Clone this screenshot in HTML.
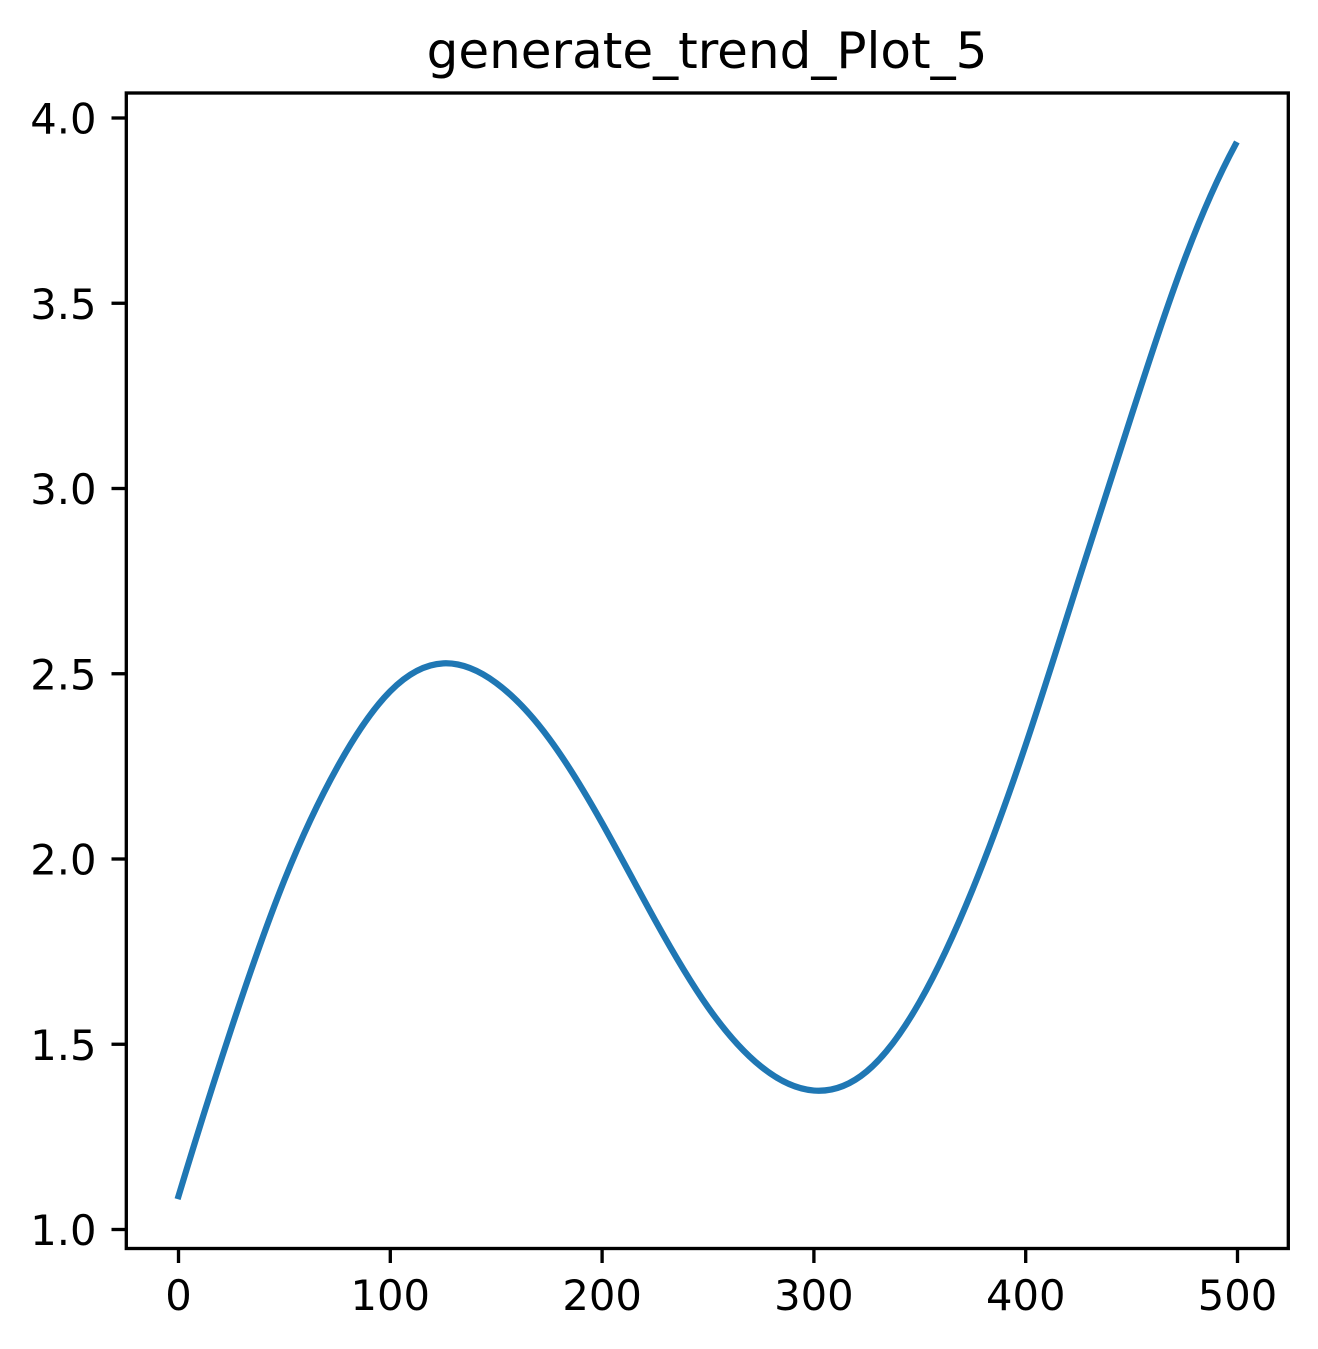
<!DOCTYPE html>
<html lang="en">
<head>
<meta charset="utf-8">
<title>generate_trend_Plot_5</title>
<style>
html,body{margin:0;padding:0;background:#fff;}
body{width:1318px;height:1349px;overflow:hidden;}
svg{display:block;}
text{font-family:"DejaVu Sans","Liberation Sans",sans-serif;fill:#000;}
</style>
</head>
<body>
<svg id="chart" xmlns="http://www.w3.org/2000/svg" width="1318" height="1349" viewBox="0 0 1318 1349">
  <rect x="0" y="0" width="1318" height="1349" fill="#ffffff"/>
  <text x="707" y="68" text-anchor="middle" style="font-size:50px">generate_trend_Plot_5</text>
  <g id="ticks"></g>
  <path id="line" fill="none" stroke="#1f77b4" stroke-width="6.25" stroke-linecap="square" stroke-linejoin="round"/>
  <rect x="126.3" y="93" width="1162" height="1155.5" fill="none" stroke="#000" stroke-width="3.33"/>
</svg>
<script>
const xValues = [0,25,50,75,100,125,150,175,200,225,250,275,300,325,350,375,400,425,450,475,499];
const yValues = [1.09,1.543,1.943,2.248,2.453,2.528,2.475,2.325,2.097,1.835,1.60,1.44,1.375,1.427,1.615,1.919,2.308,2.753,3.198,3.618,3.928];
const xTicks = [0,100,200,300,400,500];
const yTicks = [1.0,1.5,2.0,2.5,3.0,3.5,4.0];
const yTickLabels = ['1.0','1.5','2.0','2.5','3.0','3.5','4.0'];

function xScale(v){ return 178.5 + v * 2.118; }
function yScale(v){ return 1229.5 - (v - 1) * 370.5; }

const NS = 'http://www.w3.org/2000/svg';
const tickGroup = document.getElementById('ticks');

xTicks.forEach(function(t){
  const px = xScale(t);
  const tick = document.createElementNS(NS,'line');
  
  
  tick.setAttribute('x1', px); tick.setAttribute('x2', px);
  tick.setAttribute('y1', 1248.5); tick.setAttribute('y2', 1263);
  tick.setAttribute('stroke', '#000'); tick.setAttribute('stroke-width', 3.33);
  tickGroup.appendChild(tick);
  const label = document.createElementNS(NS,'text');
  
  
  label.setAttribute('x', px); label.setAttribute('y', 1310);
  label.setAttribute('text-anchor', 'middle');
  label.style.fontSize = '41.67px';
  label.textContent = String(t);
  tickGroup.appendChild(label);
});

yTicks.forEach(function(t,i){
  const py = yScale(t);
  const tick = document.createElementNS(NS,'line');
  
  
  tick.setAttribute('x1', 111.5); tick.setAttribute('x2', 126);
  tick.setAttribute('y1', py); tick.setAttribute('y2', py);
  tick.setAttribute('stroke', '#000'); tick.setAttribute('stroke-width', 3.33);
  tickGroup.appendChild(tick);
  const label = document.createElementNS(NS,'text');
  
  
  label.setAttribute('x', 96.5); label.setAttribute('y', py + 15.5);
  label.setAttribute('text-anchor', 'end');
  label.style.fontSize = '41.67px';
  label.textContent = yTickLabels[i];
  tickGroup.appendChild(label);
});

/* C2 cubic spline with parabolic run-out ends, drawn as Bezier segments */
function splinePath(xs, ys){
  const n = xs.length;
  const h = [], s = [];
  for (let i = 0; i < n - 1; i++) { h.push(xs[i+1]-xs[i]); s.push((ys[i+1]-ys[i])/h[i]); }
  const a = new Array(n).fill(0), b = new Array(n).fill(0), c = new Array(n).fill(0), r = new Array(n).fill(0);
  b[0] = 1; c[0] = 1; r[0] = 2*s[0];
  for (let i = 1; i < n - 1; i++) {
    a[i] = 1/h[i-1];
    b[i] = 2*(1/h[i-1] + 1/h[i]);
    c[i] = 1/h[i];
    r[i] = 3*(s[i-1]/h[i-1] + s[i]/h[i]);
  }
  a[n-1] = 1; b[n-1] = 1; r[n-1] = 2*s[n-2];
  for (let i = 1; i < n; i++) {
    const w = a[i]/b[i-1];
    b[i] -= w*c[i-1];
    r[i] -= w*r[i-1];
  }
  const m = new Array(n);
  m[n-1] = r[n-1]/b[n-1];
  for (let i = n - 2; i >= 0; i--) m[i] = (r[i]-c[i]*m[i+1])/b[i];
  let d = 'M' + xs[0] + ' ' + ys[0];
  for (let i = 0; i < n - 1; i++) {
    d += ' C' + (xs[i]+h[i]/3) + ' ' + (ys[i]+m[i]*h[i]/3) + ' ' + (xs[i+1]-h[i]/3) + ' ' + (ys[i+1]-m[i+1]*h[i]/3) + ' ' + xs[i+1] + ' ' + ys[i+1];
  }
  return d;
}
document.getElementById('line').setAttribute('d', splinePath(xValues.map(xScale), yValues.map(yScale)));
</script>
</body>
</html>
